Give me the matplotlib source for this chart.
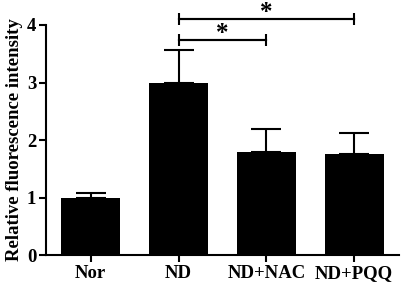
import numpy as np
import matplotlib.pyplot as plt

# Datos
groups = ['Nor', 'ND', 'ND+NAC', 'ND+PQQ']
means = [1.0, 3.0, 1.8, 1.75]
sems = [0.08, 0.57, 0.39, 0.37]

# Comparaciones (grupo a, grupo b, altura)
comparisons = [(1, 2, 3.74), (1, 3, 4.10)]

plt.rcParams['font.family'] = ['Liberation Serif', 'DejaVu Serif']
plt.rcParams['font.weight'] = 'bold'

fig = plt.figure(figsize=(4.02, 2.84), dpi=100)
ax = fig.add_axes([0.1144, 0.102, 0.878, 0.81])

x = np.arange(len(groups))
ax.bar(x, means, width=0.67, color='black', zorder=2)
ax.errorbar(x, means, yerr=[np.zeros(len(sems)), sems], fmt='none',
            ecolor='black', elinewidth=1.5, capsize=11, capthick=1.5, zorder=1)

# Barras de significancia
for a, b, h in comparisons:
    ax.errorbar([a, b], [h, h], yerr=0.1, color='black', lw=1.5,
                capsize=0, elinewidth=1.5, clip_on=False)
    ax.plot([a, b], [h, h], color='black', lw=1.5, clip_on=False)
    ax.text((a + b) / 2, h, '*', ha='center', va='baseline',
            fontsize=18, fontweight='bold', clip_on=False)

ax.set_xlim(-0.51, 3.51)
ax.set_ylim(0, 4)
ax.set_yticks([0, 1, 2, 3, 4])
ax.set_xticks(x)
ax.set_xticklabels(groups)
ax.set_ylabel('Relative fluorescence intensity', fontsize=13.5, fontweight='bold', labelpad=3)

for s in ['top', 'right']:
    ax.spines[s].set_visible(False)
for s in ['left', 'bottom']:
    ax.spines[s].set_linewidth(1.5)
ax.tick_params(axis='both', width=1.5, length=5, labelsize=13.5, pad=2)

fig.savefig('out.png', dpi=100)
